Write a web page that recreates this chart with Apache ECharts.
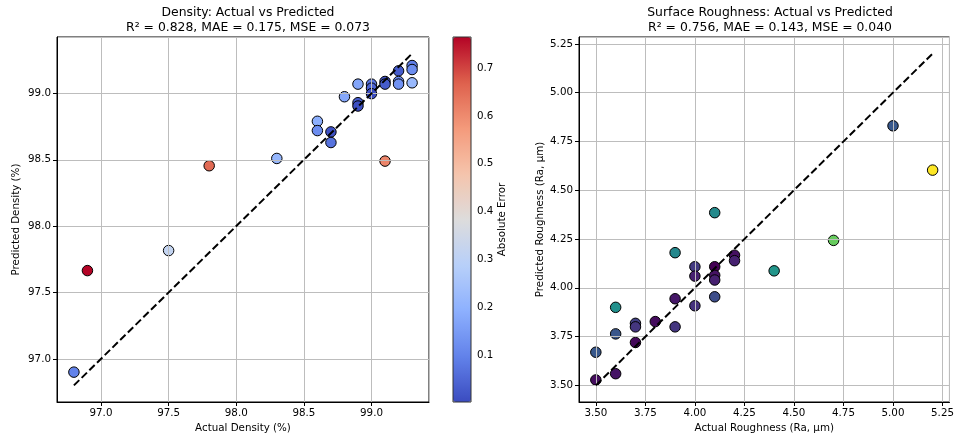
<!DOCTYPE html>
<html>
<head>
<meta charset="utf-8">
<script src="https://cdn.jsdelivr.net/npm/echarts@6/dist/echarts.min.js"></script>
<style>
html,body{margin:0;padding:0;background:#fff;}
#chart{width:957px;height:441px;}
</style>
</head>
<body>
<div id="chart"></div>
<script>
// ---- Data ----
const densityActual = [96.8, 96.9, 97.5, 97.8, 98.3, 98.6, 98.6, 98.7, 98.7, 98.8, 98.9, 98.9, 98.9, 99.0, 99.0, 99.0, 99.1, 99.1, 99.1, 99.2, 99.2, 99.2, 99.3, 99.3, 99.3];
const densityPred   = [96.90, 97.665, 97.816, 98.455, 98.51, 98.79, 98.72, 98.71, 98.63, 98.975, 98.93, 98.905, 99.07, 99.07, 99.04, 98.998, 99.09, 99.07, 98.49, 99.17, 99.09, 99.07, 99.21, 99.18, 99.08];
const roughActual = [3.5, 3.5, 3.6, 3.6, 3.6, 3.7, 3.7, 3.7, 3.8, 3.9, 3.9, 3.9, 4.0, 4.0, 4.0, 4.1, 4.1, 4.1, 4.1, 4.1, 4.2, 4.2, 4.4, 4.7, 5.0, 5.2];
const roughPred   = [3.67, 3.528, 3.90, 3.764, 3.56, 3.818, 3.80, 3.72, 3.827, 4.18, 3.944, 3.80, 4.108, 4.06, 3.908, 4.385, 4.108, 4.064, 4.04, 3.954, 4.167, 4.139, 4.087, 4.243, 4.83, 4.603];
const densityTitle = ['Density: Actual vs Predicted', 'R\u00b2 = 0.828, MAE = 0.175, MSE = 0.073'];
const roughTitle = ['Surface Roughness: Actual vs Predicted', 'R\u00b2 = 0.756, MAE = 0.143, MSE = 0.040'];

const coolwarm = ['#3b4cc0','#6282ea','#8db0fe','#b8d0f9','#dddcdc','#f5c4ac','#f49a7b','#de614d','#b40426'];
const viridis = ['#440154','#472d7b','#3b528b','#2c728e','#21918c','#28ae80','#5ec962','#addc30','#fde725'];

function build(act, pred){
  return act.map((a,i)=>[a, pred[i], Math.abs(pred[i]-a)]);
}
const dData = build(densityActual, densityPred);
const rData = build(roughActual, roughPred);
function range(act, pred){
  const lo = Math.min(...act, ...pred), hi = Math.max(...act, ...pred);
  const pad = 0.05*(hi-lo);
  return [lo-pad, hi+pad];
}
const dRange = range(densityActual, densityPred);
const rRange = range(roughActual, roughPred);
const dErr = dData.map(d=>d[2]), rErr = rData.map(d=>d[2]);
const dLine = [[Math.min(...densityActual), Math.min(...densityActual)], [Math.max(...densityActual), Math.max(...densityActual)]];
const rLine = [[Math.min(...roughActual), Math.min(...roughActual)], [Math.max(...roughActual), Math.max(...roughActual)]];

const FONT = 'DejaVu Sans';
const TICK = 10.3;
function valAxis(gi, rng, step, dec, name, isY, gap){
  return {
    type:'value', gridIndex: gi, min: rng[0], max: rng[1],
    minInterval: step, maxInterval: step,
    name: name, nameLocation:'middle', nameGap: gap,
    nameTextStyle:{fontFamily:FONT, fontSize:TICK, color:'#000'},
    axisLine:{show:true, onZero:false, lineStyle:{color:'#000', width:1}},
    axisTick:{show:true, length:4, lineStyle:{color:'#000', width:1}},
    axisLabel:{fontFamily:FONT, fontSize:TICK, color:'#000', margin:6, showMinLabel:false, showMaxLabel:false,
      formatter: v => (Math.abs(v/step - Math.round(v/step)) < 1e-6) ? v.toFixed(dec) : ''},
    splitLine:{show:true, lineStyle:{color:'#bdbdbd', width:1}}
  };
}

const chart = echarts.init(document.getElementById('chart'), null, {renderer:'canvas'});
const option = {
  backgroundColor:'#fff',
  animation:false,
  title:[
    {text: densityTitle.join('\n'), left:243, top:0, textAlign:'center',
     textStyle:{fontFamily:FONT, fontSize:12.4, fontWeight:'normal', color:'#000', lineHeight:15.5}},
    {text: roughTitle.join('\n'), left:765, top:0, textAlign:'center',
     textStyle:{fontFamily:FONT, fontSize:12.4, fontWeight:'normal', color:'#000', lineHeight:15.5}}
  ],
  grid:[
    {left:57, top:37, width:372, height:365, show:true, borderColor:'#000', borderWidth:1, backgroundColor:'transparent'},
    {left:579, top:37, width:372, height:365, show:true, borderColor:'#000', borderWidth:1, backgroundColor:'transparent'},
    {left:453, top:37, width:18, height:365, show:false}
  ],
  xAxis:[
    valAxis(0, dRange, 0.5, 1, 'Actual Density (%)', false, 19),
    valAxis(1, rRange, 0.25, 2, 'Actual Roughness (Ra, \u00b5m)', false, 19),
    {type:'value', gridIndex:2, min:0, max:1, show:false}
  ],
  yAxis:[
    valAxis(0, dRange, 0.5, 1, 'Predicted Density (%)', true, 36),
    valAxis(1, rRange, 0.25, 2, 'Predicted Roughness (Ra, \u00b5m)', true, 34),
    {type:'value', gridIndex:2, position:'right', min: Math.min(...dErr), max: Math.max(...dErr),
     minInterval:0.1, maxInterval:0.1,
     name:'Absolute Error', nameLocation:'middle', nameGap:20, nameRotate:90,
     nameTextStyle:{fontFamily:FONT, fontSize:TICK, color:'#000'},
     axisLine:{show:false}, splitLine:{show:false},
     axisTick:{show:true, length:4, lineStyle:{color:'#000'}},
     axisLabel:{fontFamily:FONT, fontSize:TICK, color:'#000', margin:6, showMinLabel:false, showMaxLabel:false,
       formatter: v => (Math.abs(v/0.1 - Math.round(v/0.1)) < 1e-6) ? v.toFixed(1) : ''}}
  ],
  visualMap:[
    {type:'continuous', seriesIndex:0, dimension:2, min: Math.min(...dErr), max: Math.max(...dErr),
     inRange:{color: coolwarm}, show:true, calculable:false, left:453, top:37, itemWidth:18, itemHeight:365,
     padding:0, text:null, showLabel:false, hoverLink:false, z:5},
    {type:'continuous', seriesIndex:2, dimension:2, min: Math.min(...rErr), max: Math.max(...rErr),
     inRange:{color: viridis}, show:false}
  ],
  graphic:[
    {type:'rect', shape:{x:453, y:37, width:18, height:365}, style:{fill:null, stroke:'#333', lineWidth:1}, z:100, silent:true}
  ],
  series:[
    {type:'scatter', xAxisIndex:0, yAxisIndex:0, data:dData, symbolSize:10.5, z:-1,
     itemStyle:{borderColor:'#000', borderWidth:1, opacity:1}},
    {type:'line', xAxisIndex:0, yAxisIndex:0, data:dLine, symbol:'none', z:5,
     lineStyle:{color:'#000', width:2, type:[7.5,3.3]}},
    {type:'scatter', xAxisIndex:1, yAxisIndex:1, data:rData, symbolSize:10.5, z:-1,
     itemStyle:{borderColor:'#000', borderWidth:1, opacity:1}},
    {type:'line', xAxisIndex:1, yAxisIndex:1, data:rLine, symbol:'none', z:5,
     lineStyle:{color:'#000', width:2, type:[7.5,3.3]}}
  ]
};
chart.setOption(option);
</script>
</body>
</html>
